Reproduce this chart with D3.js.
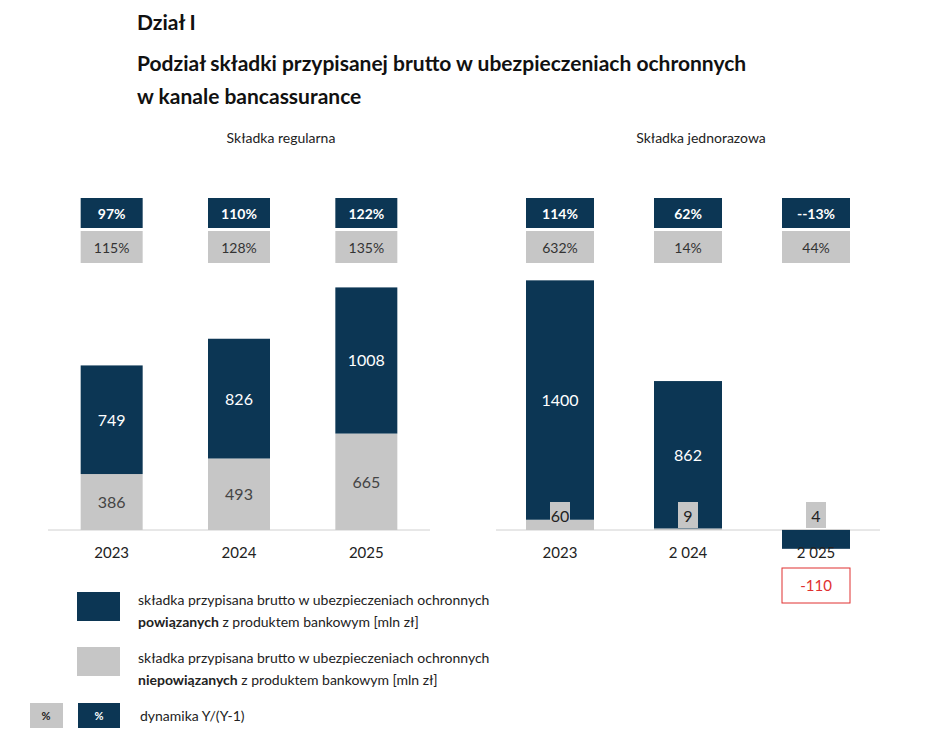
<!DOCTYPE html><html><head><meta charset="utf-8"><script src="https://cdn.jsdelivr.net/npm/d3@7"></script>
<style>body{margin:0;background:#fff}text{font-family:Lato,"Open Sans",sans-serif}</style></head><body><svg id="c" width="948" height="755"></svg>
<script>
const regYears=["2023","2024","2025"];
const regLinked=[749,826,1008];
const regUnlinked=[386,493,665];
const regDynLinked=["97%","110%","122%"];
const regDynUnlinked=["115%","128%","135%"];
const oneYears=["2023","2 024","2 025"];
const oneLinked=[1400,862,-110];
const oneUnlinked=[60,9,4];
const oneDynLinked=["114%","62%","--13%"];
const oneDynUnlinked=["632%","14%","44%"];
const DARK="#0c3654",GREY="#c6c6c6";
const svg=d3.select("#c");
const T=(x,y,s,o={})=>svg.append("text").attr("x",x).attr("y",y).text(s).attr("font-size",o.fs||14).attr("fill",o.fill||"#222").attr("font-weight",o.fw||400).attr("text-anchor",o.a||"start");
T(137,30,"Dział I",{fs:21,fw:700,fill:"#111"});
T(137,71,"Podział składki przypisanej brutto w ubezpieczeniach ochronnych",{fs:21,fw:700,fill:"#111"});
T(137,104,"w kanale bancassurance",{fs:21,fw:700,fill:"#111"});
T(281,143,"Składka regularna",{a:"middle",fs:14});
T(701,143,"Składka jednorazowa",{a:"middle",fs:14});

function panel(x0,x1,cats,linked,unlinked,dl,du,ppu,bw){
  const base=530;
  const x=d3.scaleBand().domain(cats).range([x0,x1]).paddingInner(0.5).paddingOuter(0.25);
  const y=d3.scaleLinear().domain([0,1]).range([base,base-ppu]);
  svg.append("line").attr("x1",x0).attr("x2",x1).attr("y1",base).attr("y2",base).attr("stroke","#d0d0d0");
  cats.forEach((c,i)=>{
    const cx=x(c)+x.bandwidth()/2, w=bw, bx=cx-w/2;
    const u=unlinked[i], l=linked[i];
    // unlinked
    svg.append("rect").attr("x",bx).attr("width",w).attr("y",y(u)).attr("height",y(0)-y(u)).attr("fill",GREY);
    if(l>=0){
      svg.append("rect").attr("x",bx).attr("width",w).attr("y",y(u+l)).attr("height",y(u)-y(u+l)).attr("fill",DARK);
      T(cx,(y(u+l)+y(u))/2+6,l,{a:"middle",fs:16,fill:"#fff"});
    } else {
      svg.append("rect").attr("x",bx).attr("width",w).attr("y",y(0)).attr("height",y(l)-y(0)).attr("fill",DARK);
      svg.append("rect").attr("x",bx).attr("width",w).attr("y",568).attr("height",35).attr("fill","#fff").attr("stroke","#e03030");
      T(cx,591,l,{a:"middle",fs:15,fill:"#e03030"});
    }
    if(y(0)-y(u)>24) T(cx,(y(u)+y(0))/2+6,u,{a:"middle",fs:16,fill:"#444"});
    else {
      svg.append("rect").attr("x",cx-10).attr("y",y(0)-28).attr("width",20).attr("height",26).attr("fill",GREY);
      T(cx,y(0)-8,u,{a:"middle",fs:16,fill:"#222"});
    }
    T(cx,558,c,{a:"middle",fs:15,fill:"#222"});
    svg.append("rect").attr("x",bx).attr("y",198).attr("width",w).attr("height",30).attr("fill",DARK);
    T(cx,219,dl[i],{a:"middle",fs:14,fw:700,fill:"#fff"});
    svg.append("rect").attr("x",bx).attr("y",231).attr("width",w).attr("height",32).attr("fill",GREY);
    T(cx,253,du[i],{a:"middle",fs:14,fill:"#333"});
  });
}
panel(48,430,regYears,regLinked,regUnlinked,regDynLinked,regDynUnlinked,0.145,62);
panel(496,880,oneYears,oneLinked,oneUnlinked,oneDynLinked,oneDynUnlinked,0.171,68);

svg.append("rect").attr("x",77).attr("y",592).attr("width",43).attr("height",29).attr("fill",DARK);
svg.append("rect").attr("x",77).attr("y",647).attr("width",43).attr("height",29).attr("fill",GREY);
T(138,605,"składka przypisana brutto w ubezpieczeniach ochronnych",{fs:14});
const t1=T(138,627,"",{fs:14});t1.append("tspan").attr("font-weight",700).text("powiązanych");t1.append("tspan").text(" z produktem bankowym [mln zł]");
T(138,663,"składka przypisana brutto w ubezpieczeniach ochronnych",{fs:14});
const t2=T(138,685,"",{fs:14});t2.append("tspan").attr("font-weight",700).text("niepowiązanych");t2.append("tspan").text(" z produktem bankowym [mln zł]");
svg.append("rect").attr("x",30).attr("y",703).attr("width",33).attr("height",25).attr("fill",GREY);
svg.append("rect").attr("x",78).attr("y",703).attr("width",42).attr("height",25).attr("fill",DARK);
T(46,720,"%",{a:"middle",fs:11,fw:700});
T(99,720,"%",{a:"middle",fs:11,fw:700,fill:"#fff"});
T(140,721,"dynamika Y/(Y-1)",{fs:14});
</script></body></html>
